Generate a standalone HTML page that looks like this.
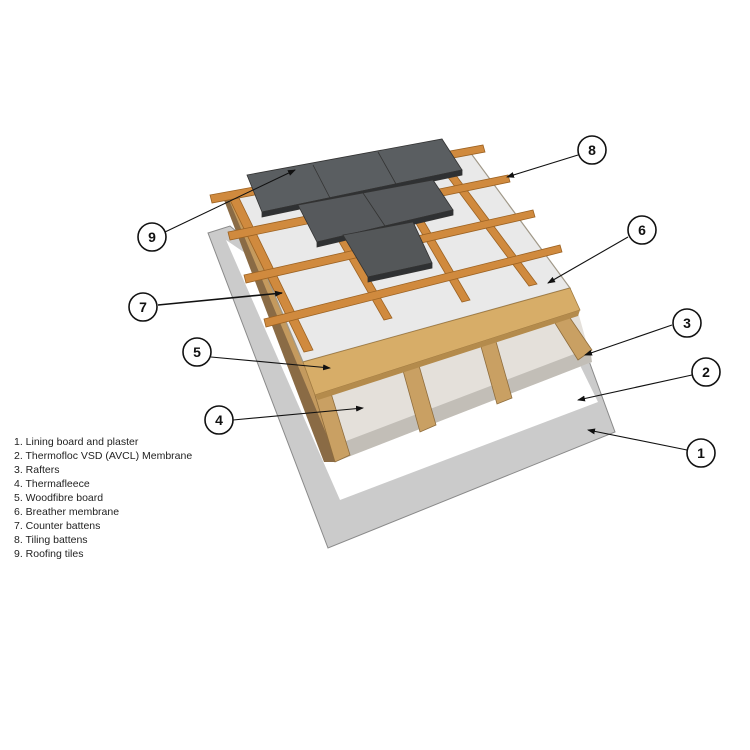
<!DOCTYPE html>
<html><head><meta charset="utf-8"><style>
html,body{margin:0;padding:0;background:#fff;}
svg{display:block;}
.t{font-family:"Liberation Sans",sans-serif;font-size:10.5px;fill:#222;}
.n{font-family:"Liberation Sans",sans-serif;font-size:14px;font-weight:bold;fill:#111;text-anchor:middle;}
</style></head><body>
<svg width="750" height="750" viewBox="0 0 750 750" xmlns="http://www.w3.org/2000/svg">
<defs>
<marker id="a" markerWidth="8" markerHeight="6" refX="7" refY="3" orient="auto" markerUnits="userSpaceOnUse"><path d="M0,0 L8,3 L0,6 z" fill="#111"/></marker>
</defs>
<!-- lining board -->
<polygon points="208,233 230,226 270,260 585,350 615,432 328,548" fill="#cbcbcb" stroke="#8a8a8a" stroke-width="1"/>
<polygon points="226,240 270,270 575,355 598,402 340,500" fill="#fff"/>
<!-- block left side -->
<polygon points="224,200 238,198 315,395 335,462 324,462" fill="#8a6b45"/>
<polygon points="229,200 238,198 318,395 333,450" fill="#c49a5e"/>
<!-- block front (insulation) -->
<polygon points="315,395 578,312 592,362 335,462" fill="#e4e0da"/>
<polygon points="333,446 590,348 592,362 335,462" fill="#c2beb7"/>
<!-- rafters -->
<g fill="#c9a063" stroke="#8e6c3c" stroke-width="0.8">
<polygon points="315,395 330,390 350,455 335,462"/>
<polygon points="402,367 418,362 436,425 420,432"/>
<polygon points="480,343 495,338 512,398 497,404"/>
<polygon points="553,320 568,315 592,350 578,360"/>
</g>
<!-- breather membrane -->
<polygon points="233,196 470,152 570,288 303,362" fill="#e9e9e9" stroke="#a09888" stroke-width="1.2"/>
<!-- OSB -->
<polygon points="303,362 570,288 580,310 315,395" fill="#d7ad68" stroke="#a07a40" stroke-width="0.8"/>
<polygon points="315,395 580,310 578,316 318,400" fill="#b48b4c"/>
<!-- counter battens -->
<g fill="#d08a3e" stroke="#9c6222" stroke-width="0.8">
<polygon points="230,200 239,198 313,350 304,352"/>
<polygon points="338,240 346,238 392,318 384,320"/>
<polygon points="414,220 422,218 470,300 462,302"/>
<polygon points="444,172 452,170 537,284 529,286"/>
</g>
<!-- tiling battens -->
<g fill="#d08a3e" stroke="#9c6222" stroke-width="0.8">
<polygon points="210,195 483,145 485,152 212,203"/>
<polygon points="228,232 508,175 510,182 230,240"/>
<polygon points="244,275 533,210 535,217 246,283"/>
<polygon points="264,319 560,245 562,252 266,327"/>
</g>
<!-- tiles -->
<g stroke="#333" stroke-width="0.8">
<polygon points="247,175 442,139 462,170 262,212" fill="#5a5e61"/>
<polygon points="262,212 462,170 462,175 262,217" fill="#2f3133"/>
<polygon points="298,205 433,180 453,210 317,242" fill="#56595c"/>
<polygon points="317,242 453,210 453,215 317,247" fill="#2f3133"/>
<polygon points="343,235 413,222 432,263 368,277" fill="#545759"/>
<polygon points="368,277 432,263 432,268 368,282" fill="#2f3133"/>
<line x1="313" y1="165" x2="330" y2="198"/><line x1="378" y1="152" x2="396" y2="184"/>
<line x1="363" y1="193" x2="385" y2="226"/>
</g>
<!-- callouts -->
<g stroke="#111" stroke-width="1.1" fill="none">
<line x1="578" y1="155" x2="507" y2="177" marker-end="url(#a)"/>
<line x1="165" y1="232" x2="295" y2="170" marker-end="url(#a)"/>
<line x1="628" y1="237" x2="548" y2="283" marker-end="url(#a)"/>
<line x1="158" y1="305" x2="282" y2="293" marker-end="url(#a)" stroke-width="1.6"/>
<line x1="211" y1="357" x2="330" y2="368" marker-end="url(#a)"/>
<line x1="672" y1="325" x2="585" y2="355" marker-end="url(#a)"/>
<line x1="692" y1="375" x2="578" y2="400" marker-end="url(#a)"/>
<line x1="233" y1="420" x2="363" y2="408" marker-end="url(#a)"/>
<line x1="687" y1="450" x2="588" y2="430" marker-end="url(#a)"/>
</g>
<g fill="#fff" stroke="#111" stroke-width="1.6">
<circle cx="592" cy="150" r="14"/><circle cx="152" cy="237" r="14"/>
<circle cx="642" cy="230" r="14"/><circle cx="143" cy="307" r="14"/>
<circle cx="197" cy="352" r="14"/><circle cx="687" cy="323" r="14"/>
<circle cx="706" cy="372" r="14"/><circle cx="219" cy="420" r="14"/>
<circle cx="701" cy="453" r="14"/>
</g>
<text class="n" x="592" y="155">8</text><text class="n" x="152" y="242">9</text>
<text class="n" x="642" y="235">6</text><text class="n" x="143" y="312">7</text>
<text class="n" x="197" y="357">5</text><text class="n" x="687" y="328">3</text>
<text class="n" x="706" y="377">2</text><text class="n" x="219" y="425">4</text>
<text class="n" x="701" y="458">1</text>
<!-- legend -->
<text class="t" x="14" y="445">1. Lining board and plaster</text>
<text class="t" x="14" y="459">2. Thermofloc VSD (AVCL) Membrane</text>
<text class="t" x="14" y="473">3. Rafters</text>
<text class="t" x="14" y="487">4. Thermafleece</text>
<text class="t" x="14" y="501">5. Woodfibre board</text>
<text class="t" x="14" y="515">6. Breather membrane</text>
<text class="t" x="14" y="529">7. Counter battens</text>
<text class="t" x="14" y="543">8. Tiling battens</text>
<text class="t" x="14" y="557">9. Roofing tiles</text>
</svg>
</body></html>
